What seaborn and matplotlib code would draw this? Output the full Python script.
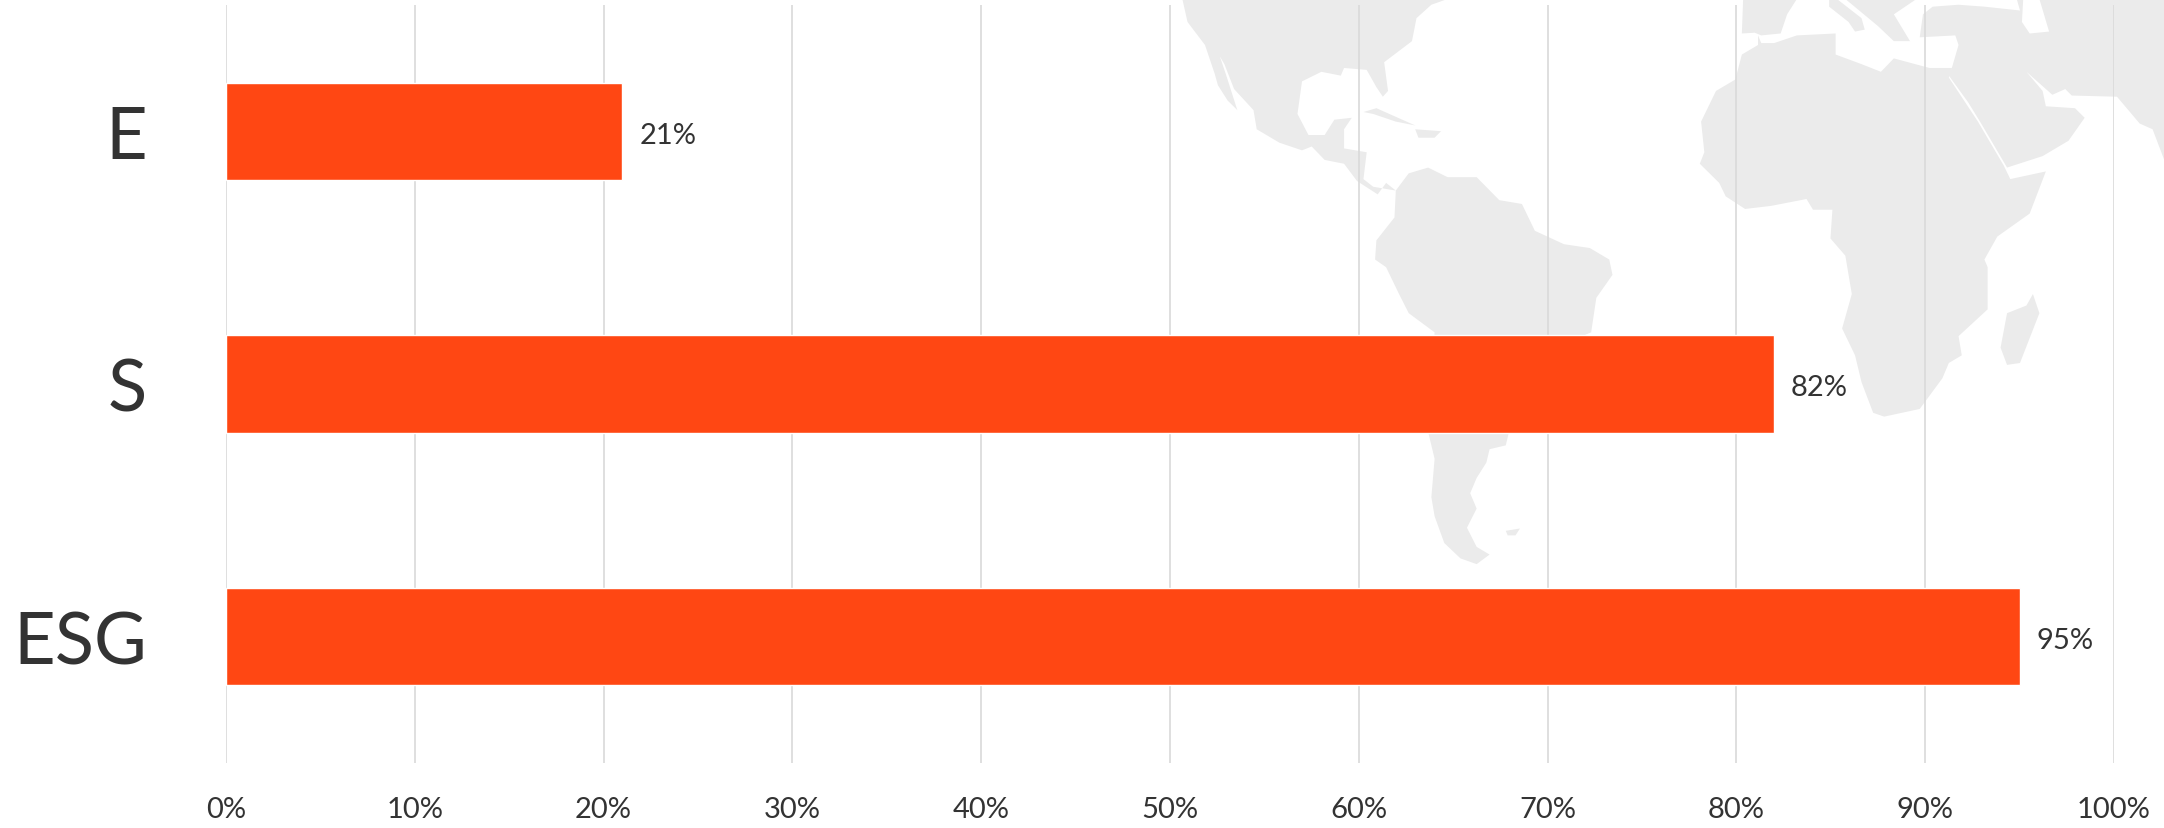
import matplotlib
matplotlib.use("Agg")
import matplotlib.pyplot as plt
import pandas as pd
import seaborn as sns

categories = ["E", "S", "ESG"]
values = [21, 82, 95]
x_ticks = [0, 10, 20, 30, 40, 50, 60, 70, 80, 90, 100]
x_labels = ["0%", "10%", "20%", "30%", "40%", "50%", "60%", "70%", "80%", "90%", "100%"]

# background map outlines, rough tracing
north_america = [(50,0),(58,60),(85,120),(100,195),(105,225),(120,265),(135,290),(118,200),(108,150),(115,170),(130,235),
    (160,290),(165,340),(200,375),(235,395),(250,385),(270,420),(300,430),(320,475),(352,510),(365,480),(380,500),
    (345,490),(330,470),(335,400),(300,390),(300,340),(312,310),(285,315),(270,355),(245,355),(228,300),(235,215),
    (265,190),(295,200),(300,180),(335,185),(350,230),(360,255),(368,240),(362,165),(405,110),(412,50),(435,15),(460,0)]
south_america = [(380,500),(400,455),(430,440),(460,465),(505,465),(540,525),(575,535),(595,605),(640,640),(680,650),
    (710,680),(715,720),(690,780),(682,870),(640,900),(555,1130),(550,1165),(525,1175),(520,1210),(505,1250),(495,1290),
    (505,1330),(490,1380),(505,1430),(525,1450),(505,1475),(480,1460),(455,1420),(440,1350),(435,1300),(440,1200),
    (430,1130),(440,870),(400,820),(385,770),(365,700),(348,680),(350,630),(378,570)]
africa = [(940,95),(940,120),(915,145),(905,210),(875,240),(852,320),(857,400),(850,430),(880,480),(890,515),(920,548),
    (960,540),(1015,522),(1025,550),(1055,550),(1052,625),(1075,670),(1085,770),(1070,860),(1090,930),(1100,1000),
    (1118,1080),(1135,1090),(1190,1070),(1225,990),(1235,950),(1255,930),(1250,880),(1295,810),(1295,700),(1290,680),
    (1310,620),(1360,560),(1385,450),(1330,470),(1320,435),(1280,320),(1235,205),(1240,180),(1205,180),(1150,155),
    (1130,190),(1100,170),(1060,145),(1060,90),(1000,95),(965,115),(945,115)]
asia = [(1190,100),(1245,95),(1250,120),(1240,178),(1235,200),(1265,270),(1285,325),(1325,440),(1380,410),(1420,370),
    (1445,310),(1430,285),(1385,280),(1380,240),(1355,190),(1375,220),(1395,250),(1415,235),(1425,252),(1495,255),
    (1530,325),(1550,340),(1568,420),(1568,0),(1340,0),(1345,30),(1290,20),(1250,15),(1210,20),(1195,40)]
iberia = [(917,0),(1000,0),(985,40),(975,90),(945,95),(935,88),(915,90)]
italy = [(1062,0),(1100,50),(1105,80),(1090,85),(1080,60),(1050,20),(1050,0)]
balkans = [(1075,0),(1185,0),(1150,40),(1175,110),(1150,110),(1125,70)]
madagascar = [(1365,770),(1375,820),(1345,950),(1325,955),(1315,910),(1325,820),(1355,800)]
cuba = [(330,295),(350,285),(410,330),(380,320),(345,300)]
hispaniola = [(410,340),(450,345),(440,362),(415,362)]
falkland = [(550,1388),(572,1382),(565,1400),(553,1400)]
caspian = [(1350,0),(1375,0),(1390,85),(1360,90),(1348,60)]
land = [north_america, south_america, africa, asia, iberia, italy, balkans, madagascar, cuba, hispaniola, falkland]

sns.set_theme(style="white")
plt.rcParams["font.family"] = ["Lato", "DejaVu Sans"]

df = pd.DataFrame({"group": categories, "share": values})

fig = plt.figure(figsize=(21.64, 8.29), dpi=100)

# map sits in its own pixel-sized axes behind the chart
bg = fig.add_axes([0, 0, 1, 1], zorder=0)
bg.set_xlim(0, 2164)
bg.set_ylim(829, 0)
bg.axis("off")
for shape in land:
    bg.fill([1150 + p[0] / 1.546 for p in shape], [p[1] / 2.61 for p in shape], color="#EBEBEB", lw=0)
bg.fill([1150 + p[0] / 1.546 for p in caspian], [p[1] / 2.61 for p in caspian], color="white", lw=0)

ax = fig.add_axes([226 / 2164, 1 - 764 / 829, (2114 - 226) / 2164, (764 - 6) / 829], zorder=1)
ax.patch.set_alpha(0)
sns.barplot(data=df, y="group", x="share", color="#FF4713", saturation=1, width=0.385, ax=ax)

ax.set_xlim(0, 100)
ax.set_ylim(2.5, -0.5)
ax.set_xticks(x_ticks)
ax.set_xticklabels(x_labels, fontsize=21, color="#333333")
ax.tick_params(axis="x", length=0, pad=24)
ax.tick_params(axis="y", length=0, pad=57, labelsize=52, labelcolor="#333333")
ax.set_xlabel("")
ax.set_ylabel("")
ax.grid(axis="x", color="#D9D9D9", lw=1.2)
ax.grid(axis="y", visible=False)
ax.set_axisbelow(True)
sns.despine(ax=ax, left=True, bottom=True)

labels = ax.bar_label(ax.containers[0], fmt="%d%%", padding=12, fontsize=21, color="#333333")
for t in labels:
    t.xyann = (t.xyann[0], -2.5)

fig.savefig("out.png", dpi=100)
